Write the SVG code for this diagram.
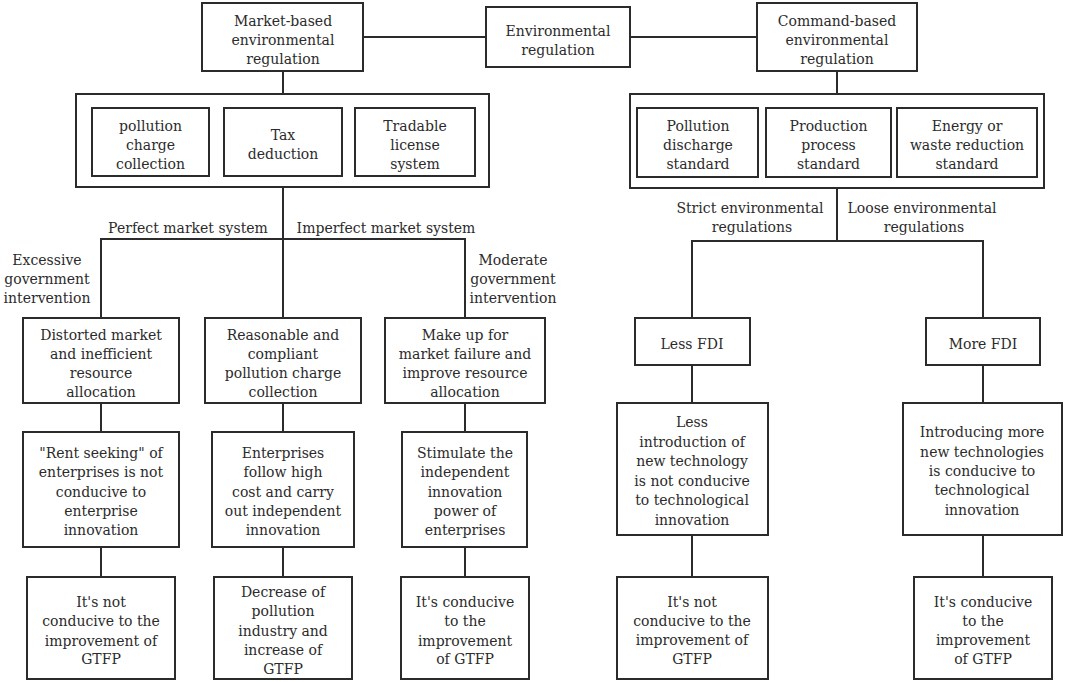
<svg xmlns="http://www.w3.org/2000/svg" width="1065" height="682" viewBox="0 0 1065 682">
<style>
rect{fill:#fff;stroke:#2b2b2b;stroke-width:2}
text{font-family:"DejaVu Serif",serif;font-size:14px;fill:#2b2b2b;text-anchor:middle}
.c line,.c polyline{stroke:#2b2b2b;stroke-width:2;fill:none}
</style>
<rect x="0" y="0" width="1065" height="682" style="fill:#fff;stroke:none"/>
<g class="c" id="connectors">
<line x1="363" y1="37" x2="486" y2="37"/>
<line x1="630" y1="37" x2="757" y2="37"/>
<line x1="283" y1="71" x2="283" y2="94"/>
<line x1="837" y1="71" x2="837" y2="94"/>
<line x1="283" y1="187" x2="283" y2="318"/>
<polyline points="101,318 101,239 465,239 465,318"/>
<line x1="101" y1="403" x2="101" y2="432"/>
<line x1="283" y1="403" x2="283" y2="432"/>
<line x1="465" y1="403" x2="465" y2="432"/>
<line x1="101" y1="547" x2="101" y2="577"/>
<line x1="283" y1="547" x2="283" y2="577"/>
<line x1="465" y1="547" x2="465" y2="577"/>
<line x1="837" y1="188" x2="837" y2="241"/>
<polyline points="692,318 692,241 983,241 983,318"/>
<line x1="692" y1="365" x2="692" y2="403"/>
<line x1="983" y1="365" x2="983" y2="403"/>
<line x1="692" y1="535" x2="692" y2="577"/>
<line x1="983" y1="535" x2="983" y2="577"/>
</g>
<g id="labels">
<text x="188" y="233">Perfect market system</text>
<text x="386" y="233">Imperfect market system</text>
<text x="47" y="265">Excessive</text>
<text x="47" y="284">government</text>
<text x="47" y="303">intervention</text>
<text x="513" y="265">Moderate</text>
<text x="513" y="284">government</text>
<text x="513" y="303">intervention</text>
<text x="750" y="213">Strict environmental</text>
<text x="752" y="232">regulations</text>
<text x="922" y="213">Loose environmental</text>
<text x="924" y="232">regulations</text>
</g>
<g id="env">
<rect x="486" y="7" width="144" height="60"/>
<text x="558" y="36">Environmental</text>
<text x="558" y="55">regulation</text>
</g>
<g id="market">
<rect x="202" y="3" width="161" height="68"/>
<text x="283" y="26">Market-based</text>
<text x="283" y="45">environmental</text>
<text x="283" y="64">regulation</text>
</g>
<g id="command">
<rect x="757" y="3" width="160" height="68"/>
<text x="837" y="26">Command-based</text>
<text x="837" y="45">environmental</text>
<text x="837" y="64">regulation</text>
</g>
<g id="market-tools">
<rect x="76" y="94" width="413" height="93"/>
</g>
<g id="pollution-charge">
<rect x="92" y="108" width="117" height="68"/>
<text x="150.5" y="131">pollution</text>
<text x="150.5" y="150">charge</text>
<text x="150.5" y="169">collection</text>
</g>
<g id="tax">
<rect x="224" y="108" width="118" height="68"/>
<text x="283" y="140">Tax</text>
<text x="283" y="159">deduction</text>
</g>
<g id="tradable">
<rect x="355" y="108" width="120" height="68"/>
<text x="415" y="131">Tradable</text>
<text x="415" y="150">license</text>
<text x="415" y="169">system</text>
</g>
<g id="command-tools">
<rect x="630" y="94" width="414" height="94"/>
</g>
<g id="discharge">
<rect x="637" y="108" width="121" height="69"/>
<text x="698" y="131">Pollution</text>
<text x="698" y="150">discharge</text>
<text x="698" y="169">standard</text>
</g>
<g id="production">
<rect x="766" y="108" width="125" height="69"/>
<text x="828.5" y="131">Production</text>
<text x="828.5" y="150">process</text>
<text x="828.5" y="169">standard</text>
</g>
<g id="energy">
<rect x="897" y="108" width="140" height="69"/>
<text x="967" y="131">Energy or</text>
<text x="967" y="150">waste reduction</text>
<text x="967" y="169">standard</text>
</g>
<g id="distorted">
<rect x="23" y="318" width="156" height="85"/>
<text x="101" y="340">Distorted market</text>
<text x="101" y="359">and inefficient</text>
<text x="101" y="378">resource</text>
<text x="101" y="397">allocation</text>
</g>
<g id="reasonable">
<rect x="205" y="318" width="156" height="85"/>
<text x="283" y="340">Reasonable and</text>
<text x="283" y="359">compliant</text>
<text x="283" y="378">pollution charge</text>
<text x="283" y="397">collection</text>
</g>
<g id="makeup">
<rect x="385" y="318" width="160" height="85"/>
<text x="465" y="340">Make up for</text>
<text x="465" y="359">market failure and</text>
<text x="465" y="378">improve resource</text>
<text x="465" y="397">allocation</text>
</g>
<g id="rent">
<rect x="23" y="432" width="156" height="115"/>
<text x="101" y="458">"Rent seeking" of</text>
<text x="101" y="477">enterprises is not</text>
<text x="101" y="497">conducive to</text>
<text x="101" y="516">enterprise</text>
<text x="101" y="535">innovation</text>
</g>
<g id="follow">
<rect x="212" y="432" width="142" height="115"/>
<text x="283" y="458">Enterprises</text>
<text x="283" y="477">follow high</text>
<text x="283" y="497">cost and carry</text>
<text x="283" y="516">out independent</text>
<text x="283" y="535">innovation</text>
</g>
<g id="stimulate">
<rect x="402" y="432" width="125" height="115"/>
<text x="465" y="458">Stimulate the</text>
<text x="465" y="477">independent</text>
<text x="465" y="497">innovation</text>
<text x="465" y="516">power of</text>
<text x="465" y="535">enterprises</text>
</g>
<g id="notgtfp1">
<rect x="27" y="577" width="148" height="102"/>
<text x="101" y="607">It's not</text>
<text x="101" y="626">conducive to the</text>
<text x="101" y="646">improvement of</text>
<text x="101" y="664">GTFP</text>
</g>
<g id="decrease">
<rect x="214" y="577" width="138" height="102"/>
<text x="283" y="597">Decrease of</text>
<text x="283" y="616">pollution</text>
<text x="283" y="636">industry and</text>
<text x="283" y="655">increase of</text>
<text x="283" y="674">GTFP</text>
</g>
<g id="gtfp1">
<rect x="401" y="577" width="128" height="102"/>
<text x="465" y="607">It's conducive</text>
<text x="465" y="626">to the</text>
<text x="465" y="646">improvement</text>
<text x="465" y="664">of GTFP</text>
</g>
<g id="lessfdi">
<rect x="635" y="318" width="115" height="47"/>
<text x="692" y="349">Less FDI</text>
</g>
<g id="morefdi">
<rect x="926" y="318" width="114" height="47"/>
<text x="983" y="349">More FDI</text>
</g>
<g id="lessintro">
<rect x="617" y="403" width="151" height="132"/>
<text x="692" y="427">Less</text>
<text x="692" y="447">introduction of</text>
<text x="692" y="466">new technology</text>
<text x="692" y="486">is not conducive</text>
<text x="692" y="505">to technological</text>
<text x="692" y="525">innovation</text>
</g>
<g id="moreintro">
<rect x="903" y="403" width="159" height="132"/>
<text x="982" y="437">Introducing more</text>
<text x="982" y="457">new technologies</text>
<text x="982" y="476">is conducive to</text>
<text x="982" y="495">technological</text>
<text x="982" y="515">innovation</text>
</g>
<g id="notgtfp2">
<rect x="617" y="577" width="151" height="102"/>
<text x="692" y="607">It's not</text>
<text x="692" y="626">conducive to the</text>
<text x="692" y="645">improvement of</text>
<text x="692" y="664">GTFP</text>
</g>
<g id="gtfp2">
<rect x="914" y="577" width="138" height="102"/>
<text x="983" y="607">It's conducive</text>
<text x="983" y="626">to the</text>
<text x="983" y="645">improvement</text>
<text x="983" y="664">of GTFP</text>
</g>
</svg>
